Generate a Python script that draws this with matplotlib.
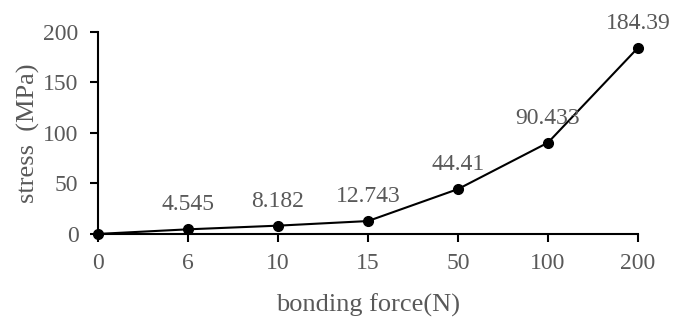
import matplotlib.pyplot as plt
import numpy as np

plt.rcParams['font.family'] = ['Liberation Serif', 'DejaVu Serif']

forces = ['0', '6', '10', '15', '50', '100', '200']
stress = [0, 4.545, 8.182, 12.743, 44.41, 90.433, 184.39]
labels = ['', '4.545', '8.182', '12.743', '44.41', '90.433', '184.39']

grey = '#595959'
fig = plt.figure(figsize=(6.73, 3.2), dpi=100)
ax = fig.add_axes([0.1456, 0.269, 0.8024, 0.631])

x = np.arange(len(forces))
ax.plot(x, stress, color='black', lw=1.5, marker='o', markersize=7, clip_on=False, zorder=3)

for xi, yi, lab in zip(x, stress, labels):
    if lab:
        ax.annotate(lab, xy=(xi, yi), xytext=(0, 10), textcoords='offset points',
                    ha='center', va='bottom', fontsize=17, color=grey)

ax.set_xlim(0, len(forces) - 1)
ax.set_ylim(0, 200)
ax.set_xticks(x)
ax.set_xticklabels(forces)
ax.set_yticks([0, 50, 100, 150, 200])

for s in ['top', 'right']:
    ax.spines[s].set_visible(False)
for s in ['left', 'bottom']:
    ax.spines[s].set_linewidth(1.5)
    ax.spines[s].set_color('black')

ax.tick_params(axis='both', direction='out', length=6, width=1.5, colors='black',
               labelcolor=grey, labelsize=17)
ax.tick_params(axis='x', pad=8)
ax.tick_params(axis='y', pad=8)

ax.set_xlabel('bonding force(N)', fontsize=19, color=grey, labelpad=14)
ax.set_ylabel('stress  (MPa)', fontsize=19, color=grey, labelpad=2)

fig.savefig('out.png', dpi=100)
